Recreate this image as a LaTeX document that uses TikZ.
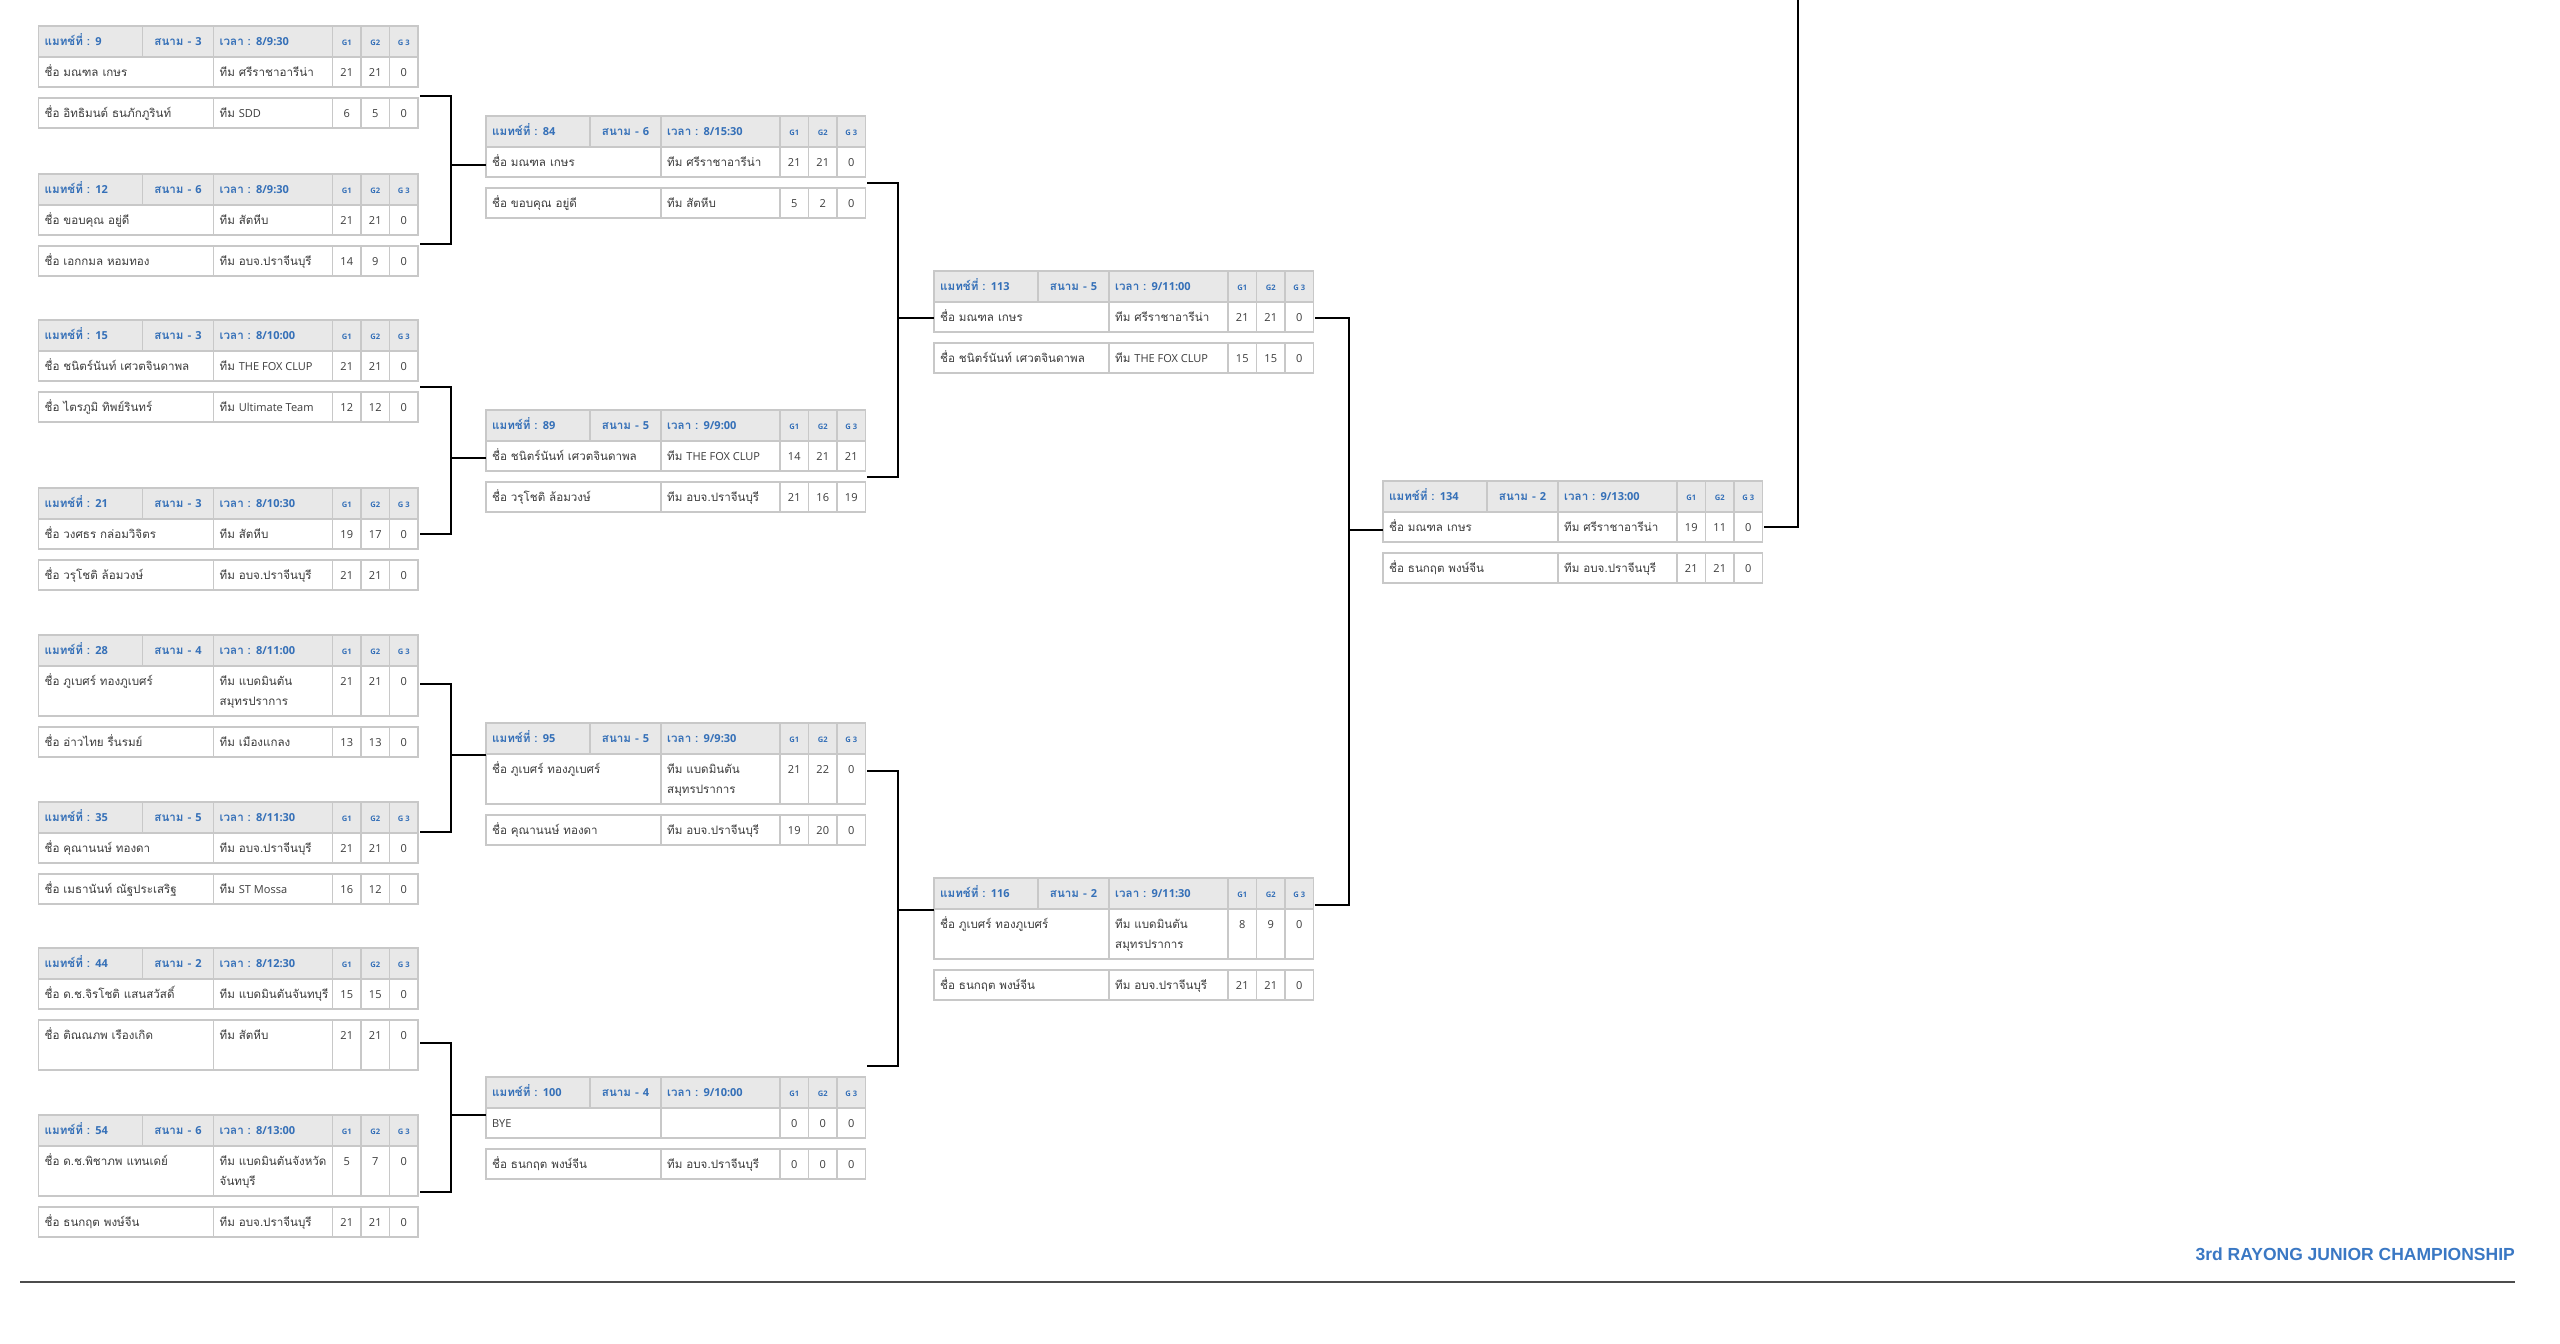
\documentclass[tikz,border=0pt]{standalone}
\usepackage{fontspec}
\setmainfont{Liberation Sans}
\newfontfamily\thaifont[Script=Thai]{Loma}
\newfontfamily\latfam[Scale=0.95]{Open Sans}
\newfontfamily\ttlfont{Liberation Sans}
\newcommand\lat[1]{{\latfam #1}}
\definecolor{hdrc}{HTML}{E8E8E8}
\definecolor{bordc}{HTML}{C8C8C8}
\definecolor{bluec}{HTML}{3570B8}
\definecolor{txtc}{HTML}{3C3C3C}
\definecolor{titlec}{HTML}{3A78C4}
\newcommand\myrfont{\thaifont\fontsize{11.6}{20}\selectfont}
\newcommand\myhfont{\thaifont\bfseries\fontsize{11.6}{13}\selectfont}
\newcommand\mygfont{\latfam\bfseries\fontsize{8}{9}\selectfont}
\tikzset{
  cellb/.style={draw=bordc, line width=1.2},
  hbox/.style={draw=bordc, fill=hdrc, line width=1.2},
  rbox/.style={draw=bordc, fill=white, line width=1.2},
  htxt/.style={font=\myhfont, text=bluec, inner sep=0},
  gtxt/.style={font=\mygfont, text=bluec, inner sep=0},
  rtxt/.style={font=\myrfont, text=txtc, inner sep=0},
  conn/.style={line width=2.5, draw=black},
  rulel/.style={line width=1.5, draw=black!70},
}
\newcommand\mhdr[6]{%
\begin{scope}[shift={(#2,#3)}]
\draw[hbox] (0,0) rectangle (379.5,31);
\foreach \xx in {104,175,294,322.5,351}{\draw[cellb] (\xx,0) -- (\xx,31);}
\node[htxt,anchor=base west] (#1-no) at (6,19.5) {แมทช์ที่ : \lat{#4}};
\node[htxt,anchor=base] (#1-ct) at (139.5,19.5) {สนาม - \lat{#5}};
\node[htxt,anchor=base west] (#1-tm) at (181,19.5) {เวลา : \lat{#6}};
\node[gtxt,anchor=base] (#1-g1) at (308.25,19) {G1};
\node[gtxt,anchor=base] (#1-g2) at (336.75,19) {G2};
\node[gtxt,anchor=base] (#1-g3) at (365.25,19) {G 3};
\end{scope}}
\newcommand\mrow[9]{%
\begin{scope}[shift={(#2,#3)}]
\draw[rbox] (0,0) rectangle (379.5,#4);
\foreach \xx in {175,294,322.5,351}{\draw[cellb] (\xx,0) -- (\xx,#4);}
\node[rtxt,anchor=base west] (#1-nm) at (6,19.5) {#5};
\node[rtxt,anchor=base west] (#1-tm) at (181,19.5) {\begin{tabular}[t]{@{}l@{}}#6\end{tabular}};
\node[rtxt,anchor=base] (#1-s1) at (308.25,19.5) {\lat{#7}};
\node[rtxt,anchor=base] (#1-s2) at (336.75,19.5) {\lat{#8}};
\node[rtxt,anchor=base] (#1-s3) at (365.25,19.5) {\lat{#9}};
\end{scope}}
\begin{document}
\begin{tikzpicture}[x=1pt,y=-1pt]
\useasboundingbox[fill=white] (0,0) rectangle (2560,1344);
% ---------- column 1 ----------
\mhdr{m9}{38.5}{26}{9}{3}{8/9:30}
\mrow{m9a}{38.5}{57}{30}{ชื่อ มณฑล เกษร}{ทีม ศรีราชาอารีน่า}{21}{21}{0}
\mrow{m9b}{38.5}{98}{30}{ชื่อ อิทธิมนต์ ธนภักภูรินท์}{ทีม \lat{SDD}}{6}{5}{0}
\mhdr{m12}{38.5}{174}{12}{6}{8/9:30}
\mrow{m12a}{38.5}{205}{30}{ชื่อ ขอบคุณ อยู่ดี}{ทีม สัตหีบ}{21}{21}{0}
\mrow{m12b}{38.5}{246}{30}{ชื่อ เอกกมล หอมทอง}{ทีม อบจ.ปราจีนบุรี}{14}{9}{0}
\mhdr{m15}{38.5}{320}{15}{3}{8/10:00}
\mrow{m15a}{38.5}{351}{30}{ชื่อ ชนิตร์นันท์ เศวตจินดาพล}{ทีม \lat{THE FOX CLUP}}{21}{21}{0}
\mrow{m15b}{38.5}{392}{30}{ชื่อ ไตรภูมิ ทิพย์รินทร์}{ทีม \lat{Ultimate Team}}{12}{12}{0}
\mhdr{m21}{38.5}{488}{21}{3}{8/10:30}
\mrow{m21a}{38.5}{519}{30}{ชื่อ วงศธร กล่อมวิจิตร}{ทีม สัตหีบ}{19}{17}{0}
\mrow{m21b}{38.5}{560}{30}{ชื่อ วรุโชติ ล้อมวงษ์}{ทีม อบจ.ปราจีนบุรี}{21}{21}{0}
\mhdr{m28}{38.5}{635}{28}{4}{8/11:00}
\mrow{m28a}{38.5}{666}{50}{ชื่อ ภูเบศร์ ทองภูเบศร์}{ทีม แบดมินตัน\\สมุทรปราการ}{21}{21}{0}
\mrow{m28b}{38.5}{727}{30}{ชื่อ อ่าวไทย รื่นรมย์}{ทีม เมืองแกลง}{13}{13}{0}
\mhdr{m35}{38.5}{802}{35}{5}{8/11:30}
\mrow{m35a}{38.5}{833}{30}{ชื่อ คุณานนษ์ ทองดา}{ทีม อบจ.ปราจีนบุรี}{21}{21}{0}
\mrow{m35b}{38.5}{874}{30}{ชื่อ เมธานันท์ ณัฐประเสริฐ}{ทีม \lat{ST Mossa}}{16}{12}{0}
\mhdr{m44}{38.5}{948}{44}{2}{8/12:30}
\mrow{m44a}{38.5}{979}{30}{ชื่อ ด.ช.จิรโชติ แสนสวัสดิ์}{ทีม แบดมินตันจันทบุรี}{15}{15}{0}
\mrow{m44b}{38.5}{1020}{50}{ชื่อ ติณณภพ เรืองเกิด}{ทีม สัตหีบ}{21}{21}{0}
\mhdr{m54}{38.5}{1115}{54}{6}{8/13:00}
\mrow{m54a}{38.5}{1146}{50}{ชื่อ ด.ช.พิชาภพ แทนเดย์}{ทีม แบดมินตันจังหวัด\\จันทบุรี}{5}{7}{0}
\mrow{m54b}{38.5}{1207}{30}{ชื่อ ธนกฤต พงษ์จีน}{ทีม อบจ.ปราจีนบุรี}{21}{21}{0}
% ---------- column 2 ----------
\mhdr{m84}{486}{116}{84}{6}{8/15:30}
\mrow{m84a}{486}{147}{30}{ชื่อ มณฑล เกษร}{ทีม ศรีราชาอารีน่า}{21}{21}{0}
\mrow{m84b}{486}{188}{30}{ชื่อ ขอบคุณ อยู่ดี}{ทีม สัตหีบ}{5}{2}{0}
\mhdr{m89}{486}{410}{89}{5}{9/9:00}
\mrow{m89a}{486}{441}{30}{ชื่อ ชนิตร์นันท์ เศวตจินดาพล}{ทีม \lat{THE FOX CLUP}}{14}{21}{21}
\mrow{m89b}{486}{482}{30}{ชื่อ วรุโชติ ล้อมวงษ์}{ทีม อบจ.ปราจีนบุรี}{21}{16}{19}
\mhdr{m95}{486}{723}{95}{5}{9/9:30}
\mrow{m95a}{486}{754}{50}{ชื่อ ภูเบศร์ ทองภูเบศร์}{ทีม แบดมินตัน\\สมุทรปราการ}{21}{22}{0}
\mrow{m95b}{486}{815}{30}{ชื่อ คุณานนษ์ ทองดา}{ทีม อบจ.ปราจีนบุรี}{19}{20}{0}
\mhdr{m100}{486}{1077}{100}{4}{9/10:00}
\mrow{m100a}{486}{1108}{30}{\lat{BYE}}{}{0}{0}{0}
\mrow{m100b}{486}{1149}{30}{ชื่อ ธนกฤต พงษ์จีน}{ทีม อบจ.ปราจีนบุรี}{0}{0}{0}
% ---------- column 3 ----------
\mhdr{m113}{934}{271}{113}{5}{9/11:00}
\mrow{m113a}{934}{302}{30}{ชื่อ มณฑล เกษร}{ทีม ศรีราชาอารีน่า}{21}{21}{0}
\mrow{m113b}{934}{343}{30}{ชื่อ ชนิตร์นันท์ เศวตจินดาพล}{ทีม \lat{THE FOX CLUP}}{15}{15}{0}
\mhdr{m116}{934}{878}{116}{2}{9/11:30}
\mrow{m116a}{934}{909}{50}{ชื่อ ภูเบศร์ ทองภูเบศร์}{ทีม แบดมินตัน\\สมุทรปราการ}{8}{9}{0}
\mrow{m116b}{934}{970}{30}{ชื่อ ธนกฤต พงษ์จีน}{ทีม อบจ.ปราจีนบุรี}{21}{21}{0}
% ---------- column 4 ----------
\mhdr{m134}{1383}{481}{134}{2}{9/13:00}
\mrow{m134a}{1383}{512}{30}{ชื่อ มณฑล เกษร}{ทีม ศรีราชาอารีน่า}{19}{11}{0}
\mrow{m134b}{1383}{553}{30}{ชื่อ ธนกฤต พงษ์จีน}{ทีม อบจ.ปราจีนบุรี}{21}{21}{0}
% ---------- connectors ----------
\coordinate (m9-out) at (420,96);   \coordinate (m12-out) at (420,244);
\coordinate (b1) at (451,165);      \coordinate (m84-in) at (486,165);
\coordinate (m15-out) at (420,387); \coordinate (m21-out) at (420,534);
\coordinate (b2) at (451,458);      \coordinate (m89-in) at (486,458);
\coordinate (m28-out) at (420,684); \coordinate (m35-out) at (420,832);
\coordinate (b3) at (451,755);      \coordinate (m95-in) at (486,755);
\coordinate (m44-out) at (420,1043);\coordinate (m54-out) at (420,1192);
\coordinate (b4) at (451,1115);     \coordinate (m100-in) at (486,1115);
\coordinate (m84-out) at (867,183); \coordinate (m89-out) at (867,477);
\coordinate (b5) at (898,318);      \coordinate (m113-in) at (934,318);
\coordinate (m95-out) at (867,771); \coordinate (m100-out) at (867,1066);
\coordinate (b6) at (898,910);      \coordinate (m116-in) at (934,910);
\coordinate (m113-out) at (1315,318); \coordinate (m116-out) at (1315,905);
\coordinate (b7) at (1349,530);     \coordinate (m134-in) at (1383,530);
\coordinate (m134-out) at (1764,527); \coordinate (fin) at (1798,0);
\draw[conn] (m9-out) -- (m9-out -| b1) -- (m12-out -| b1) -- (m12-out);
\draw[conn] (b1) -- (m84-in);
\draw[conn] (m15-out) -- (m15-out -| b2) -- (m21-out -| b2) -- (m21-out);
\draw[conn] (b2) -- (m89-in);
\draw[conn] (m28-out) -- (m28-out -| b3) -- (m35-out -| b3) -- (m35-out);
\draw[conn] (b3) -- (m95-in);
\draw[conn] (m44-out) -- (m44-out -| b4) -- (m54-out -| b4) -- (m54-out);
\draw[conn] (b4) -- (m100-in);
\draw[conn] (m84-out) -- (m84-out -| b5) -- (m89-out -| b5) -- (m89-out);
\draw[conn] (b5) -- (m113-in);
\draw[conn] (m95-out) -- (m95-out -| b6) -- (m100-out -| b6) -- (m100-out);
\draw[conn] (b6) -- (m116-in);
\draw[conn] (m113-out) -- (m113-out -| b7) -- (m116-out -| b7) -- (m116-out);
\draw[conn] (b7) -- (m134-in);
\draw[conn] (m134-out) -| (fin);
% ---------- title and rule ----------
\node[font=\ttlfont\bfseries\fontsize{17.5}{20}\selectfont, text=titlec, anchor=east, inner sep=0] (title) at (2515,1254) {3rd RAYONG JUNIOR CHAMPIONSHIP};
\coordinate (rl1) at (20,1282); \coordinate (rl2) at (2515,1282);
\draw[rulel] (rl1) -- (rl2);
\end{tikzpicture}
\end{document}
